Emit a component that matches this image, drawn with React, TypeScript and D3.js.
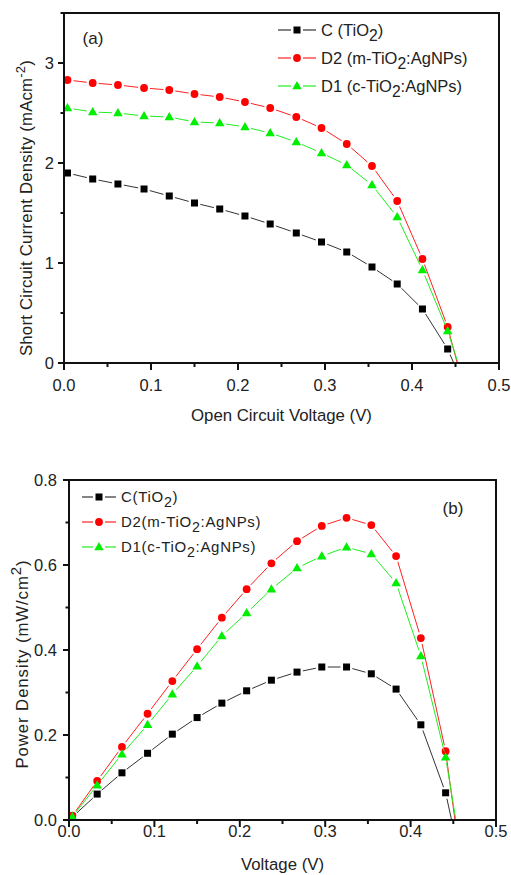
import React from "react";
import * as d3 from "d3";

// ---------- data ----------
const voltage = [0.004, 0.033, 0.062, 0.092, 0.121, 0.15, 0.179, 0.208, 0.237, 0.267, 0.296, 0.325, 0.354, 0.383, 0.412, 0.441];

const jscC = [1.9, 1.84, 1.79, 1.74, 1.67, 1.6, 1.54, 1.47, 1.39, 1.3, 1.21, 1.11, 0.96, 0.79, 0.54, 0.14];
const jscD2 = [2.83, 2.8, 2.78, 2.75, 2.73, 2.69, 2.66, 2.61, 2.55, 2.46, 2.35, 2.19, 1.97, 1.62, 1.04, 0.36];
const jscD1 = [2.55, 2.51, 2.5, 2.47, 2.46, 2.41, 2.4, 2.36, 2.3, 2.21, 2.1, 1.98, 1.78, 1.46, 0.93, 0.32];

const powC = [0.007, 0.061, 0.111, 0.157, 0.202, 0.241, 0.275, 0.304, 0.329, 0.348, 0.36, 0.36, 0.344, 0.308, 0.224, 0.064];
const powD2 = [0.01, 0.092, 0.172, 0.25, 0.327, 0.402, 0.476, 0.543, 0.604, 0.656, 0.692, 0.711, 0.694, 0.621, 0.428, 0.162];
const powD1 = [0.008, 0.082, 0.155, 0.224, 0.296, 0.362, 0.433, 0.487, 0.543, 0.593, 0.621, 0.642, 0.626, 0.558, 0.386, 0.148];

// open-circuit voltage where each curve meets zero
const vocC = 0.448;
const vocD2 = 0.452;
const vocD1 = 0.453;

const xTicks = [0, 0.1, 0.2, 0.3, 0.4, 0.5];
const xMinorTicks = [0.05, 0.15, 0.25, 0.35, 0.45];
const yTicksA = [0, 1, 2, 3];
const yMinorTicksA = [0.5, 1.5, 2.5, 3.5];
const yTicksB = [0, 0.2, 0.4, 0.6, 0.8];
const yMinorTicksB = [0.1, 0.3, 0.5, 0.7];

const FONT = "'Liberation Sans', Arial, sans-serif";
const TXT = "#222";

type Series = {
  key: string;
  name: string; // before subscript
  sub: string;
  rest: string;
  values: number[];
  voc: number;
  color: string;
  lineColor: string;
  marker: "square" | "circle" | "triangle";
};

function Marker({ type, x, y, color }: { type: string; x: number; y: number; color: string }) {
  if (type === "square") return <rect x={x - 3.5} y={y - 3.5} width={7} height={7} fill={color} />;
  if (type === "circle") return <circle cx={x} cy={y} r={3.9} fill={color} />;
  const s = 9.5;
  const h = s * 0.87;
  return (
    <path
      d={`M${x},${y - h * 0.6}L${x + s / 2},${y + h * 0.4}L${x - s / 2},${y + h * 0.4}Z`}
      fill={color}
    />
  );
}

function SeriesLines({ s, xs, ys, gap }: { s: Series; xs: any; ys: any; gap: number }) {
  const pts = s.values.map((v, i) => ({ x: xs(voltage[i]), y: ys(v), m: true }));
  pts.push({ x: xs(s.voc), y: ys(0), m: false });
  const segs: React.ReactNode[] = [];
  for (let i = 0; i < pts.length - 1; i++) {
    const a = pts[i];
    const b = pts[i + 1];
    const dx = b.x - a.x;
    const dy = b.y - a.y;
    const d = Math.hypot(dx, dy);
    const g1 = a.m ? gap : 0;
    const g2 = b.m ? gap : 0;
    if (d <= g1 + g2 + 1) continue;
    const ux = dx / d;
    const uy = dy / d;
    segs.push(
      <line
        key={i}
        x1={a.x + ux * g1}
        y1={a.y + uy * g1}
        x2={b.x - ux * g2}
        y2={b.y - uy * g2}
        stroke={s.lineColor}
        strokeWidth={1}
      />
    );
  }
  return (
    <g>
      {segs}
      {pts
        .filter((p) => p.m)
        .map((p, i) => (
          <Marker key={i} type={s.marker} x={p.x} y={p.y} color={s.color} />
        ))}
    </g>
  );
}

type PanelProps = {
  left: number;
  right: number;
  top: number;
  bottom: number;
  yMax: number;
  yTicks: number[];
  yMinor: number[];
  yFmt: (v: number) => string;
  yLabelRight: number;
  series: Series[];
  xTitle: string;
  xTitleY: number;
  xLabelY: number;
  yTitle: React.ReactNode;
  yTitleX: number;
  yTitleY: number;
  panelLabel: string;
  panelLabelX: number;
  panelLabelY: number;
  legendX: number;
  legendY: number;
  legendDy: number;
  legendFont: number;
  legendSpacing: number;
  legendLineLen: number;
  yTitleSpacing: number;
};

function Panel(p: PanelProps) {
  const xs = d3.scaleLinear().domain([0, 0.5]).range([p.left, p.right]);
  const ys = d3.scaleLinear().domain([0, p.yMax]).range([p.bottom, p.top]);
  const fmtX = d3.format(".1f");
  const half = p.legendLineLen / 2;
  return (
    <g>
      {/* data */}
      {p.series.map((s) => (
        <SeriesLines key={s.key} s={s} xs={xs} ys={ys} gap={6} />
      ))}
      {/* frame */}
      <rect
        x={p.left}
        y={p.top}
        width={p.right - p.left}
        height={p.bottom - p.top}
        fill="none"
        stroke="#111"
        strokeWidth={2}
      />
      {/* x ticks */}
      {xTicks.map((t) => (
        <g key={"xt" + t}>
          <line x1={xs(t)} x2={xs(t)} y1={p.bottom} y2={p.bottom + 7} stroke="#111" strokeWidth={2} />
          <text x={xs(t)} y={p.xLabelY} textAnchor="middle" fontSize={16.5} fontFamily={FONT} fill={TXT}>
            {fmtX(t)}
          </text>
        </g>
      ))}
      {xMinorTicks.map((t) => (
        <line key={"xm" + t} x1={xs(t)} x2={xs(t)} y1={p.bottom} y2={p.bottom + 4} stroke="#111" strokeWidth={2} />
      ))}
      {/* y ticks */}
      {p.yTicks.map((t) => (
        <g key={"yt" + t}>
          <line x1={p.left - 6} x2={p.left} y1={ys(t)} y2={ys(t)} stroke="#111" strokeWidth={2} />
          <text
            x={p.yLabelRight}
            y={ys(t)}
            dy="0.36em"
            textAnchor="end"
            fontSize={16.5}
            fontFamily={FONT}
            fill={TXT}
          >
            {p.yFmt(t)}
          </text>
        </g>
      ))}
      {p.yMinor.map((t) => (
        <line key={"ym" + t} x1={p.left - 3.5} x2={p.left} y1={ys(t)} y2={ys(t)} stroke="#111" strokeWidth={2} />
      ))}
      {/* axis titles */}
      <text
        x={(p.left + p.right) / 2}
        y={p.xTitleY}
        textAnchor="middle"
        fontSize={16.8}
        fontFamily={FONT}
        fill={TXT}
      >
        {p.xTitle}
      </text>
      <text
        transform={`translate(${p.yTitleX},${p.yTitleY}) rotate(-90)`}
        textAnchor="middle"
        fontSize={16.8}
        fontFamily={FONT}
        fill={TXT}
        letterSpacing={p.yTitleSpacing}
      >
        {p.yTitle}
      </text>
      {/* panel label */}
      <text x={p.panelLabelX} y={p.panelLabelY} textAnchor="middle" fontSize={17} fontFamily={FONT} fill={TXT}>
        {p.panelLabel}
      </text>
      {/* legend */}
      {p.series.map((s, i) => {
        const cy = p.legendY + i * p.legendDy;
        const cx = p.legendX;
        return (
          <g key={"lg" + s.key}>
            <line x1={cx - half} x2={cx - 6} y1={cy} y2={cy} stroke={s.lineColor} strokeWidth={1.2} />
            <line x1={cx + 6} x2={cx + half} y1={cy} y2={cy} stroke={s.lineColor} strokeWidth={1.2} />
            <Marker type={s.marker} x={cx} y={cy} color={s.color} />
            <text
              x={cx + half + 5}
              y={cy}
              dy="0.36em"
              fontSize={p.legendFont}
              fontFamily={FONT}
              fill={TXT}
              letterSpacing={p.legendSpacing}
            >
              {s.name}
              <tspan dy={5} fontSize={p.legendFont * 0.95}>
                {s.sub}
              </tspan>
              <tspan dy={-5}>{s.rest}</tspan>
            </text>
          </g>
        );
      })}
    </g>
  );
}

export default function App() {
  const seriesA: Series[] = [
    { key: "C", name: "C (TiO", sub: "2", rest: ")", values: jscC, voc: vocC, color: "#000", lineColor: "#333", marker: "square" },
    { key: "D2", name: "D2 (m-TiO", sub: "2", rest: ":AgNPs)", values: jscD2, voc: vocD2, color: "#ff0000", lineColor: "#ff2020", marker: "circle" },
    { key: "D1", name: "D1 (c-TiO", sub: "2", rest: ":AgNPs)", values: jscD1, voc: vocD1, color: "#00ee00", lineColor: "#20ee20", marker: "triangle" },
  ];
  const seriesB: Series[] = [
    { key: "C", name: "C(TiO", sub: "2", rest: ")", values: powC, voc: vocC, color: "#000", lineColor: "#333", marker: "square" },
    { key: "D2", name: "D2(m-TiO", sub: "2", rest: ":AgNPs)", values: powD2, voc: vocD2, color: "#ff0000", lineColor: "#ff2020", marker: "circle" },
    { key: "D1", name: "D1(c-TiO", sub: "2", rest: ":AgNPs)", values: powD1, voc: vocD1, color: "#00ee00", lineColor: "#20ee20", marker: "triangle" },
  ];
  return (
    <svg
      width={511}
      height={875}
      style={{ position: "absolute", left: 0, top: 0, background: "#fff" }}
    >
      <rect width={511} height={875} fill="#fff" />
      <Panel
        left={64}
        right={499}
        top={13}
        bottom={363}
        yMax={3.5}
        yTicks={yTicksA}
        yMinor={yMinorTicksA}
        yFmt={d3.format("d")}
        yLabelRight={54}
        series={seriesA}
        xTitle="Open Circuit Voltage (V)"
        xTitleY={421}
        xLabelY={391}
        yTitle={
          <>
            Short Circuit Current Density (mAcm
            <tspan dy={-7} fontSize={13}>-2</tspan>
            <tspan dy={7}>)</tspan>
          </>
        }
        yTitleX={32}
        yTitleY={208}
        yTitleSpacing={0.2}
        panelLabel="(a)"
        panelLabelX={93}
        panelLabelY={44}
        legendX={297}
        legendY={30}
        legendDy={28}
        legendFont={16.5}
        legendSpacing={0}
        legendLineLen={38}
      />
      <Panel
        left={69}
        right={496}
        top={480}
        bottom={820}
        yMax={0.8}
        yTicks={yTicksB}
        yMinor={yMinorTicksB}
        yFmt={d3.format(".1f")}
        yLabelRight={57}
        series={seriesB}
        xTitle="Voltage (V)"
        xTitleY={870}
        xLabelY={837}
        yTitle={
          <>
            Power Density (mW/cm
            <tspan dy={-7} fontSize={15}>2</tspan>
            <tspan dy={7}>)</tspan>
          </>
        }
        yTitleX={28}
        yTitleY={664}
        yTitleSpacing={0.9}
        panelLabel="(b)"
        panelLabelX={453}
        panelLabelY={514}
        legendX={99}
        legendY={497}
        legendDy={25}
        legendFont={15}
        legendSpacing={0.7}
        legendLineLen={34}
      />
    </svg>
  );
}
